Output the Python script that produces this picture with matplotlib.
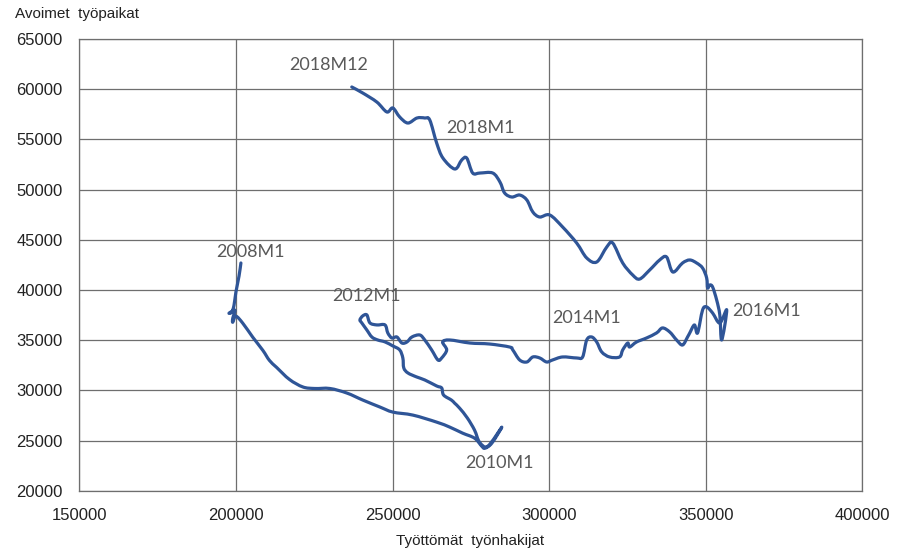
import numpy as np
import matplotlib
matplotlib.use('Agg')
import matplotlib.pyplot as plt
from matplotlib.path import Path
from matplotlib.patches import PathPatch

# Beveridge curve, monthly path 2008M1 -> 2018M12
# x: unemployed jobseekers, y: open vacancies
unemployed = [
    # 2008-2009
    201600, 201000, 200000, 199400, 198700, 197800, 199700, 199000, 199000, 200000,
    202200, 205400, 208600, 210700, 213000, 217100, 221400, 225200, 230000, 235400,
    240500, 246000, 250100, 256500, 264100, 268300, 272400, 276200, 278500, 279500,
    281700, 284900, 280400, 277800,
    # 2010-2011
    276200, 273900, 271400, 269800, 268800, 266300, 265700, 264100, 260300, 257700,
    254900, 253600, 253300, 252300, 250100, 247600, 245300, 243400, 241800, 240200,
    239600, 240500, 241800, 242800,
    # 2012-2013
    245000, 247600, 248500, 249800, 251400, 253000, 254600, 256200, 258700, 260300,
    262500, 264500, 265700, 267300, 266000, 268300, 274700, 281000, 287400, 288400,
    290600, 292900, 294800, 297000, 299200, 301100,
    # 2014-2015
    304300, 308800, 310700, 312000, 313600, 315200, 316800, 319300, 322500, 323500,
    325100, 325700, 327900, 331100, 334300, 336200, 338500, 340700, 342600, 344200,
    344900, 346400, 347400, 349000, 350300, 352200, 354500, 356700, 355100, 354500,
    # 2016-2017
    353500, 352200, 351300, 350600, 350300, 349000, 347100, 344900, 342600, 339500,
    337500, 335300, 332100, 328900, 326700, 323500, 320300, 318400, 315200, 312000,
    308800, 304300, 300200, 297000, 294800, 292900, 290600, 288100, 285800, 284300,
    282000, 277900, 275600, 273700, 272100, 269900, 266100, 264100, 261900,
    # 2018
    260300, 257800, 254900, 252300, 250100, 248200, 245000, 240500, 237000,
]
vacancies = [
    # 2008-2009
    42700, 41400, 39800, 38500, 37800, 37700, 38000, 37200, 36800, 37400,
    36700, 35300, 34000, 33000, 32300, 31100, 30350, 30200, 30200, 29750,
    29050, 28350, 27850, 27550, 26850, 26350, 25750, 25250, 24450, 24250,
    24750, 26350, 24450, 24850,
    # 2010-2011
    26050, 27260, 28250, 28750, 29050, 29550, 30250, 30450, 31050, 31350,
    31750, 32250, 33240, 34040, 34440, 34840, 35030, 35330, 36030, 36730,
    37030, 37430, 37530, 36730,
    # 2012-2013
    36530, 36530, 35730, 35230, 35330, 34730, 34830, 35330, 35530, 35030,
    34040, 33040, 33240, 34040, 34830, 35030, 34730, 34630, 34330, 34040,
    33040, 32840, 33340, 33240, 32840, 33040,
    # 2014-2015
    33340, 33240, 33340, 35030, 35330, 34830, 33840, 33340, 33340, 34040,
    34730, 34330, 34830, 35230, 35730, 36230, 35830, 35030, 34530, 35330,
    35730, 36530, 35730, 38020, 38320, 37720, 36720, 38020, 35030, 37520,
    # 2016-2017
    39010, 40310, 40510, 40210, 41210, 42200, 42700, 43000, 42700, 41800,
    43300, 43000, 42000, 41100, 41500, 42700, 44690, 44290, 42800, 43200,
    44690, 46290, 47480, 47280, 47780, 48970, 49470, 49270, 49670, 50770,
    51660, 51660, 51660, 53150, 52960, 52060, 53150, 54650, 56940,
    # 2018
    57140, 57140, 56640, 57240, 58140, 57740, 58730, 59630, 60230,
]

labels = ['2008M1', '2010M1', '2012M1', '2014M1', '2016M1', '2018M1', '2018M12']

xticks = [150000, 200000, 250000, 300000, 350000, 400000]
yticks = [20000, 25000, 30000, 35000, 40000, 45000, 50000, 55000, 60000, 65000]

plt.rcParams['font.family'] = ['Liberation Sans', 'DejaVu Sans']

fig = plt.figure(figsize=(8.99, 5.53), dpi=100)
ax = fig.add_axes([0.0882, 0.1123, 0.9592 - 0.0882, 0.9293 - 0.1123])

# Excel-style smoothed line: cubic Bezier segments through the data points
pts = np.column_stack([unemployed, vacancies]).astype(float)
n = len(pts)
verts = [pts[0]]
codes = [Path.MOVETO]
for i in range(n - 1):
    p0 = pts[max(i - 1, 0)]
    p1 = pts[i]
    p2 = pts[i + 1]
    p3 = pts[min(i + 2, n - 1)]
    verts += [p1 + (p2 - p0) / 6, p2 - (p3 - p1) / 6, p2]
    codes += [Path.CURVE4] * 3
ax.add_patch(PathPatch(Path(verts, codes), fill=False, edgecolor='#2F5597',
                       lw=2.3, joinstyle='round', capstyle='round', zorder=3))

ax.set_xlim(xticks[0], xticks[-1])
ax.set_ylim(yticks[0], yticks[-1])
ax.set_xticks(xticks)
ax.set_yticks(yticks)
ax.tick_params(length=0, labelsize=12, colors='#222222')
ax.tick_params(axis='x', pad=12)
ax.tick_params(axis='y', pad=12)
ax.grid(True, color='#6e6e6e', lw=0.9)
ax.set_axisbelow(True)
for sp in ax.spines.values():
    sp.set_color('#6e6e6e')
    sp.set_linewidth(0.9)

# data labels (Excel style)
lab_pos = {
    '2008M1': (204500, 43800, 'center'),
    '2010M1': (284300, 22800, 'center'),
    '2012M1': (241800, 39400, 'center'),
    '2014M1': (312000, 37200, 'center'),
    '2016M1': (358600, 37900, 'left'),
    '2018M1': (278200, 56100, 'center'),
    '2018M12': (229700, 62400, 'center'),
}
for name in labels:
    lx, ly, ha = lab_pos[name]
    ax.text(lx, ly, name, ha=ha, va='center', fontsize=13, color='#595959',
            family=['Lato', 'DejaVu Sans'])

fig.text(15 / 899, 1 - 14 / 553, 'Avoimet  työpaikat', fontsize=11,
         ha='left', va='center', color='#222222')
fig.text(470 / 899, 1 - 541 / 553, 'Työttömät  työnhakijat', fontsize=11,
         ha='center', va='center', color='#222222')

fig.savefig('out.png', dpi=100)
